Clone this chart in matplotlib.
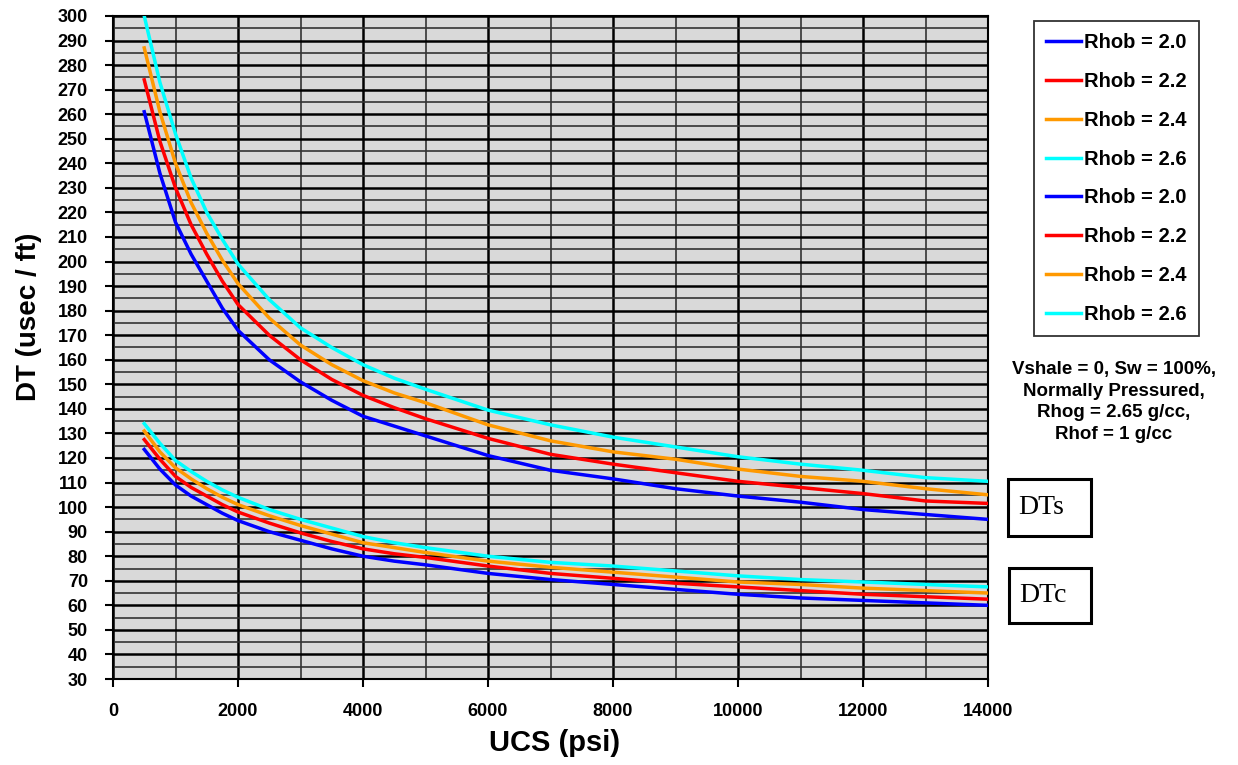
import numpy as np
import matplotlib.pyplot as plt
from matplotlib.patches import Rectangle
from matplotlib.ticker import MultipleLocator

# UCS (psi) values where curves were read
ucs = [500, 750, 1000, 1250, 1500, 1750, 2000, 2500, 3000, 3500, 4000, 4500, 5000,
       6000, 7000, 8000, 9000, 10000, 11000, 12000, 13000, 14000]

# DTs (shear) curves
dts_20 = [261, 236, 216, 203, 192, 181, 172, 160, 151, 143.5, 137, 133, 129,
          121, 115, 111.5, 107.5, 104.5, 102, 99, 97, 95]
dts_22 = [274, 249, 230, 215, 203, 192, 182.5, 170, 160, 152, 145.5, 140.5, 136,
          128, 121.5, 117.5, 114, 110.5, 108, 105.5, 102.5, 101.5]
dts_24 = [287, 261, 240, 224, 211.5, 200.5, 191, 177, 166, 158, 151.5, 146.5, 142.5,
          133.5, 127, 122.5, 119.5, 115.5, 112.5, 110.5, 107.5, 105]
dts_26 = [300, 273, 252, 234, 220, 209, 199, 184.5, 173, 165, 158, 152.5, 148,
          139.5, 133.5, 128.5, 124.5, 120.5, 117.5, 115, 112, 110.5]

# DTc (compressional) curves
dtc_20 = [123.5, 115.5, 109, 104.5, 101, 97.5, 94.5, 90, 86.5, 83, 80, 78, 76.5,
          73, 70.5, 68.5, 66.5, 64.5, 63, 62, 61, 60]
dtc_22 = [127.5, 119.5, 112.5, 108, 104.5, 101, 98, 93.5, 89.5, 86, 83, 81, 79.5,
          76, 73, 71, 69, 67.5, 66, 64.5, 63.5, 62.5]
dtc_24 = [131, 122.5, 116, 111.5, 107.5, 104, 101, 96.5, 92.5, 89, 85.5, 83.5, 81.5,
          78, 75.5, 73.5, 71.5, 69.5, 68.5, 67, 66, 65]
dtc_26 = [134, 126, 119, 114.5, 110.5, 107, 104, 99, 95, 91.5, 88, 85.5, 83.5,
          80, 77.5, 76, 74, 72, 70.5, 69.5, 68.5, 67.5]

labels = ['Rhob = 2.0', 'Rhob = 2.2', 'Rhob = 2.4', 'Rhob = 2.6']
colors = ['#0000ff', '#ff0000', '#ff9900', '#00ffff']

plt.rcParams['font.family'] = ['Liberation Sans', 'DejaVu Sans']
plt.rcParams['font.weight'] = 'bold'

W, H = 1238, 765
fig = plt.figure(figsize=(W / 100, H / 100), dpi=100)
ax = fig.add_axes([113 / W, 1 - 679 / H, 875 / W, 663 / H])
ax.set_facecolor('#d9d9d9')

for ys, lab, c in zip([dts_20, dts_22, dts_24, dts_26], labels, colors):
    ax.plot(ucs, ys, color=c, lw=2.5, label=lab, zorder=3, solid_joinstyle='round')
for ys, lab, c in zip([dtc_20, dtc_22, dtc_24, dtc_26], labels, colors):
    ax.plot(ucs, ys, color=c, lw=2.5, label=lab, zorder=3, solid_joinstyle='round')

ax.set_xlim(0, 14000)
ax.set_ylim(30, 300)
ax.xaxis.set_major_locator(MultipleLocator(2000))
ax.xaxis.set_minor_locator(MultipleLocator(1000))
ax.yaxis.set_major_locator(MultipleLocator(10))
ax.yaxis.set_minor_locator(MultipleLocator(5))
ax.grid(which='major', color='black', lw=1.8, zorder=1)
ax.grid(which='minor', color='#333333', lw=1.2, zorder=1)
ax.set_axisbelow(True)
ax.tick_params(axis='x', which='major', direction='out', length=6, width=1.5,
               labelsize=13, pad=11)
ax.tick_params(axis='y', which='major', direction='out', length=6, width=1.5,
               labelsize=13, pad=12)
ax.tick_params(which='minor', length=0)
for lbl in ax.get_xticklabels() + ax.get_yticklabels():
    lbl.set_fontweight('bold')
for s in ax.spines.values():
    s.set_color('black')
    s.set_linewidth(1.5)

ax.set_xlabel('UCS (psi)', fontsize=21, fontweight='bold')
ax.xaxis.set_label_coords(0.505, -0.075)
ax.set_ylabel('DT (usec / ft)', fontsize=20, fontweight='bold')
ax.yaxis.set_label_coords(-0.081, 0.546)

leg = fig.legend(loc='upper left', bbox_to_anchor=(1034 / W, 1 - 21 / H),
                 frameon=True, fancybox=False, handlelength=1.7,
                 handletextpad=0.15, labelspacing=0.98, borderpad=0.62,
                 borderaxespad=0, prop={'weight': 'bold', 'size': 14.5})
leg.get_frame().set_edgecolor('black')
leg.get_frame().set_linewidth(1.3)

fig.text(1114 / W, 1 - 402 / H,
         'Vshale = 0, Sw = 100%,\nNormally Pressured,\nRhog = 2.65 g/cc,\nRhof = 1 g/cc',
         ha='center', va='center', fontsize=13.5, fontweight='bold', linespacing=1.38)

# DTs / DTc boxes
for x0, y0, x1, y1, txt in [(1008, 479, 1091, 536, 'DTs'), (1009, 568, 1091, 623, 'DTc')]:
    fig.patches.append(Rectangle((x0 / W, 1 - y1 / H), (x1 - x0) / W, (y1 - y0) / H,
                                 transform=fig.transFigure, fc='white', ec='black', lw=2.2))
    fig.text((x0 + 10) / W, 1 - (y0 + y1) / 2 / H, txt, family='Liberation Serif',
             fontsize=20, fontweight='normal', ha='left', va='center')

fig.savefig('out.png', dpi=100)
